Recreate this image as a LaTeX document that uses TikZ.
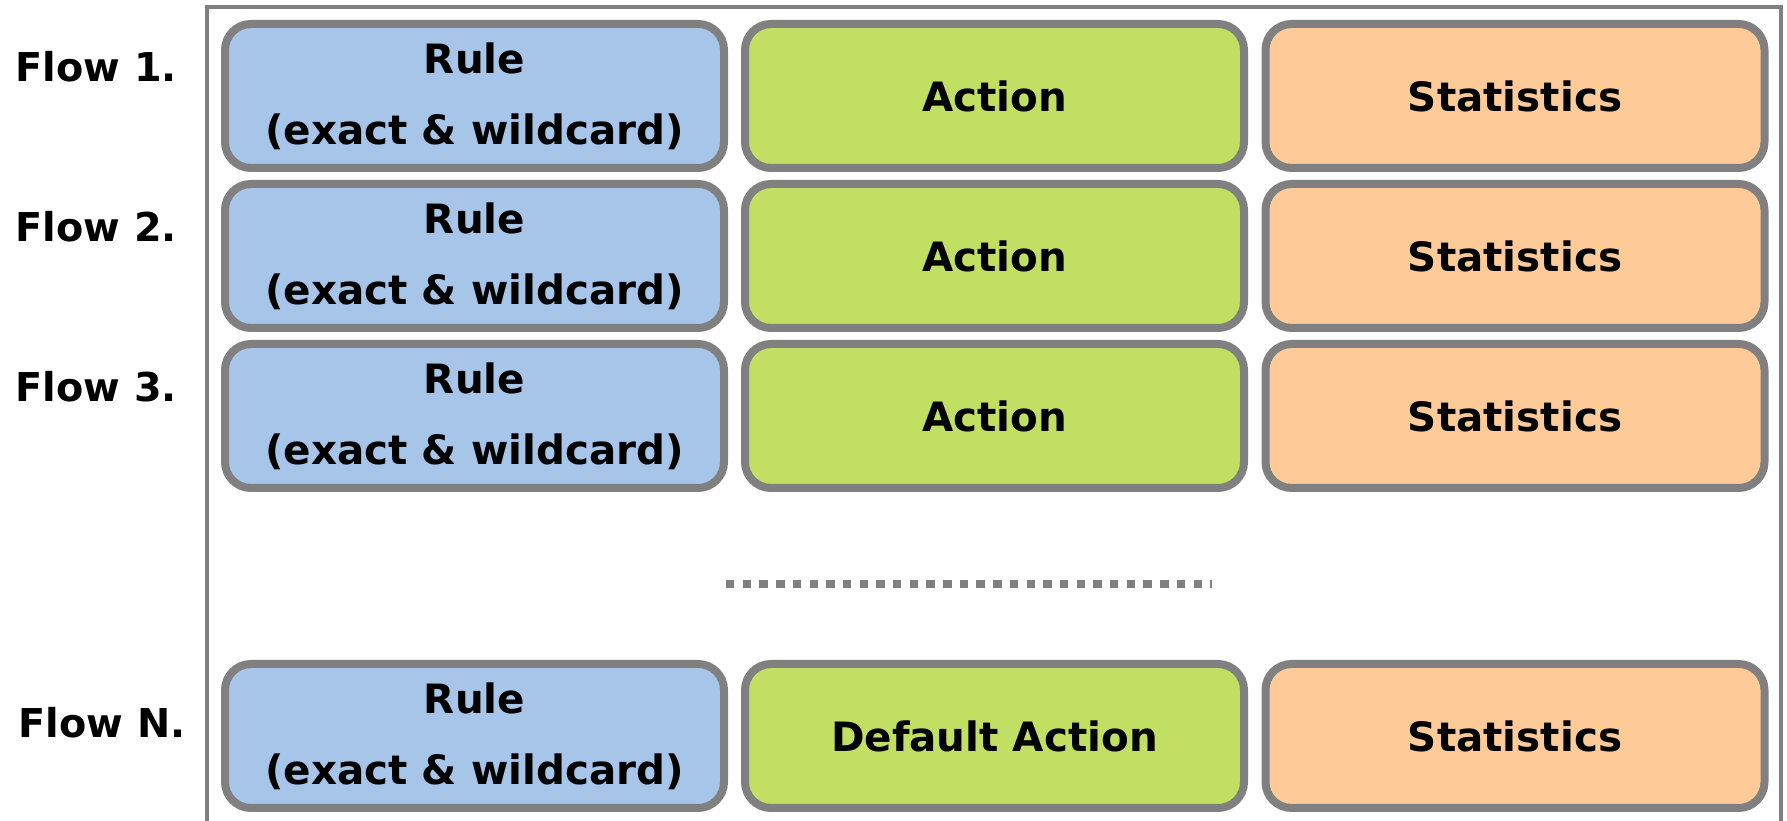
\documentclass[tikz,border=0pt]{standalone}
\usepackage{fontspec}
\setmainfont{DejaVu Sans}
\usepackage{tikz}

\definecolor{rulecol}{HTML}{A6C5E8}
\definecolor{actcol}{HTML}{C0DF63}
\definecolor{statcol}{HTML}{FECB98}
\definecolor{edgecol}{HTML}{808080}

\begin{document}
\begin{tikzpicture}[
  cell/.style={draw=edgecol, line width=0.08cm, rounded corners=0.26cm,
    minimum width=4.99cm, minimum height=1.44cm, inner sep=0pt, align=center,
    font=\fontsize{11.5}{20.3}\selectfont\bfseries},
  rulecell/.style={cell, fill=rulecol},
  actcell/.style={cell, fill=actcol},
  statcell/.style={cell, fill=statcol},
  flowlabel/.style={anchor=base west, inner sep=0pt, font=\fontsize{11.3}{13}\selectfont\bfseries},
  frame/.style={draw=edgecol, line width=0.04cm},
  dots/.style={draw=edgecol, line width=0.08cm, dash pattern=on 0.084cm off 0.083cm}]
\useasboundingbox (0,0) rectangle (17.87,-8.21);
\draw[frame] (2.07,-8.4) -- (2.07,-0.07) -- (17.81,-0.07) -- (17.81,-8.4);
\node[flowlabel] (flow1) at (0.15,-0.82) {Flow 1.};
\node[flowlabel] (flow2) at (0.15,-2.42) {Flow 2.};
\node[flowlabel] (flow3) at (0.15,-4.02) {Flow 3.};
\node[flowlabel] (flowN) at (0.18,-7.38) {Flow N.};
\node[rulecell] (rule1) at (4.745,-0.96) {Rule\\(exact \& wildcard)};
\node[actcell]  (act1)  at (9.945,-0.96) {Action};
\node[statcell] (stat1) at (15.15,-0.96) {Statistics};
\node[rulecell] (rule2) at (4.745,-2.56) {Rule\\(exact \& wildcard)};
\node[actcell]  (act2)  at (9.945,-2.56) {Action};
\node[statcell] (stat2) at (15.15,-2.56) {Statistics};
\node[rulecell] (rule3) at (4.745,-4.16) {Rule\\(exact \& wildcard)};
\node[actcell]  (act3)  at (9.945,-4.16) {Action};
\node[statcell] (stat3) at (15.15,-4.16) {Statistics};
\coordinate (dotsl) at (7.26,-5.84); \coordinate (dotsr) at (12.12,-5.84);
\draw[dots] (dotsl) -- (dotsr);
\node[rulecell] (ruleN) at (4.745,-7.36) {Rule\\(exact \& wildcard)};
\node[actcell]  (actN)  at (9.945,-7.36) {Default Action};
\node[statcell] (statN) at (15.15,-7.36) {Statistics};
\end{tikzpicture}
\end{document}
